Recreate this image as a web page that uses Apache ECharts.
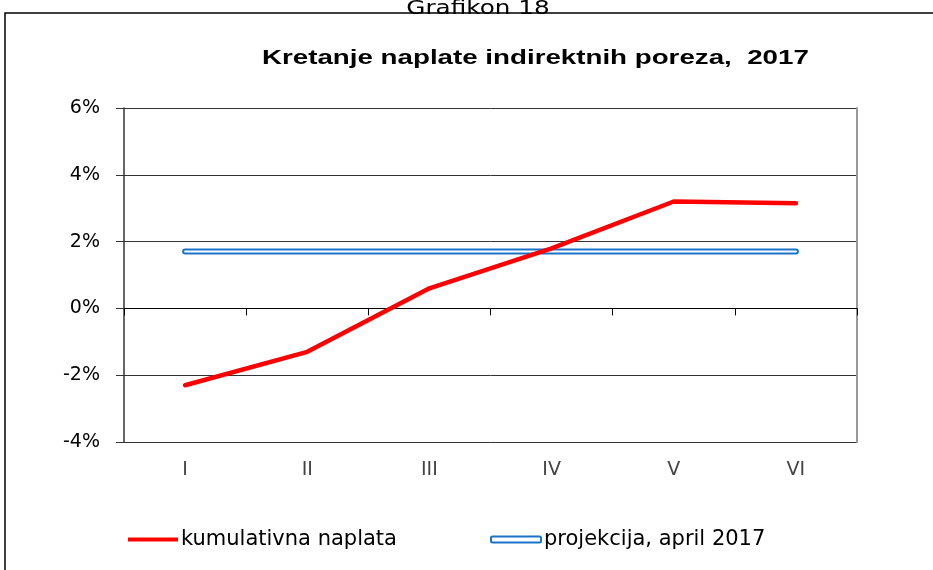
<!DOCTYPE html>
<html><head><meta charset="utf-8">
<script src="https://cdn.jsdelivr.net/npm/echarts@6/dist/echarts.min.js"></script>
<style>html,body{margin:0;padding:0;background:#fff}#c{width:933px;height:570px}</style>
</head><body><div id="c"></div>
<script>
const categories = ['I', 'II', 'III', 'IV', 'V', 'VI'];
const kumulativna = [-2.3, -1.3, 0.6, 1.8, 3.2, 3.15];
const projekcija = [1.7, 1.7, 1.7, 1.7, 1.7, 1.7];
const yTicks = { min: -4, max: 6, interval: 2 };
const names = ['kumulativna naplata', 'projekcija, april 2017'];
const titleText = 'Kretanje naplate indirektnih poreza,  2017';
const headerText = 'Grafikon 18';

const chart = echarts.init(document.getElementById('c'), null, { renderer: 'canvas' });
const font = '"Liberation Sans", Arial, sans-serif';
const wide = '"DejaVu Sans", Verdana, sans-serif';
chart.setOption({
  animation: false,
  backgroundColor: '#fff',
  graphic: [
    { type: 'rect', shape: { x: 5, y: 13, width: 1000, height: 600 }, style: { fill: 'none', stroke: '#000', lineWidth: 1.5 }, silent: true },
    { type: 'text', x: 478, y: 19, scaleX: 1.3, style: { text: headerText, fontFamily: wide, fontSize: 19, fill: '#000', align: 'center', verticalAlign: 'bottom' } },
    { type: 'text', x: 262, y: 58, scaleX: 1.32, style: { text: titleText, fontFamily: font, fontWeight: 'bold', fontSize: 21, fill: '#000', align: 'left', verticalAlign: 'middle' } }
  ],
  legend: [
    { data: [{ name: names[0], icon: 'rect' }], left: 128, top: 529, padding: 0, itemWidth: 50, itemHeight: 4, itemGap: 0,
      textStyle: { fontFamily: wide, fontSize: 21, color: '#000', padding: [0, 0, 0, -2] } },
    { data: [{ name: names[1], icon: 'roundRect', itemStyle: { color: '#fff', borderColor: '#1a73c8', borderWidth: 2 } }],
      left: 490, top: 529, padding: 0, itemWidth: 50, itemHeight: 6, itemGap: 0,
      textStyle: { fontFamily: wide, fontSize: 21, color: '#000', padding: [0, 0, 0, -2] } }
  ],
  grid: { left: 124, right: 76, top: 108, bottom: 128 },
  xAxis: [
    { type: 'category', data: categories, boundaryGap: true, position: 'bottom',
      axisLine: { show: false, onZero: false }, axisTick: { show: false },
      axisLabel: { fontFamily: wide, fontSize: 19, color: '#444', margin: 19 } },
    { type: 'category', data: categories, boundaryGap: true, position: 'top',
      axisLine: { show: true, onZero: true, lineStyle: { color: '#000', width: 1 } },
      axisTick: { show: true, inside: true, length: 7, lineStyle: { color: '#000' } },
      axisLabel: { show: false } }
  ],
  yAxis: [
    { type: 'value', min: yTicks.min, max: yTicks.max, interval: yTicks.interval,
      axisLine: { show: true, lineStyle: { color: '#333', width: 1.5 } },
      axisTick: { show: true, length: 8, lineStyle: { color: '#333' } },
      axisLabel: { fontFamily: wide, fontSize: 19, color: '#000', margin: 24, formatter: v => v + '%' },
      splitLine: { show: true, lineStyle: { color: '#333', width: 1 } } },
    { type: 'value', min: yTicks.min, max: yTicks.max, interval: yTicks.interval, position: 'right',
      axisLine: { show: true, lineStyle: { color: '#999', width: 2 } },
      axisTick: { show: false }, axisLabel: { show: false }, splitLine: { show: false } }
  ],
  series: [
    { name: names[1], type: 'line', data: projekcija, symbol: 'none', z: 2,
      lineStyle: { color: '#1a73c8', width: 6, cap: 'round' }, itemStyle: { color: '#1a73c8' } },
    { name: 'proj-inner', type: 'line', data: projekcija, symbol: 'none', z: 3,
      lineStyle: { color: '#fff', width: 2, cap: 'round' } },
    { name: names[0], type: 'line', data: kumulativna, symbol: 'none', z: 4,
      lineStyle: { color: '#ff0000', width: 4.5, cap: 'round' }, itemStyle: { color: '#ff0000' } }
  ]
});
</script></body></html>
